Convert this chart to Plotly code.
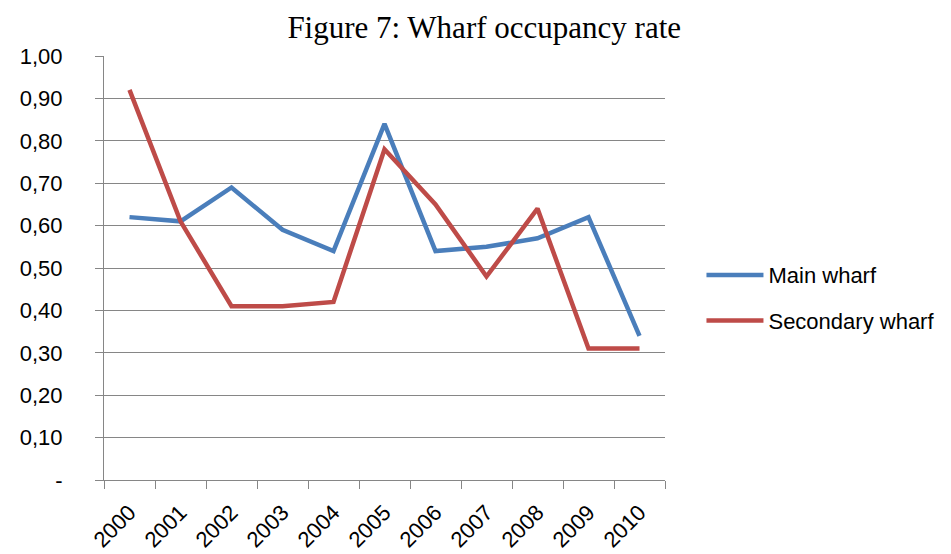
import plotly.graph_objects as go

years = ["2000", "2001", "2002", "2003", "2004", "2005", "2006", "2007", "2008", "2009", "2010"]
main_wharf = [0.62, 0.61, 0.69, 0.59, 0.54, 0.84, 0.54, 0.55, 0.57, 0.62, 0.34]
secondary_wharf = [0.92, 0.61, 0.41, 0.41, 0.42, 0.78, 0.65, 0.48, 0.64, 0.31, 0.31]
y_tickvals = [0, 0.1, 0.2, 0.3, 0.4, 0.5, 0.6, 0.7, 0.8, 0.9, 1.0]
y_ticktext = ["-", "0,10", "0,20", "0,30", "0,40", "0,50", "0,60", "0,70", "0,80", "0,90", "1,00"]

fig = go.Figure()
fig.add_trace(go.Scatter(x=years, y=main_wharf, mode="lines", name="Main wharf",
                         legendgroup="a",
                         line=dict(color="#4A7EBB", width=4.5)))
fig.add_trace(go.Scatter(x=years, y=secondary_wharf, mode="lines", name="Secondary wharf",
                         legendgroup="b",
                         line=dict(color="#BE4B48", width=4.5)))

fig.update_layout(
    width=943, height=546,
    margin=dict(l=96, r=283, t=48, b=74),
    paper_bgcolor="white", plot_bgcolor="white",
    title=dict(text="Figure 7: Wharf occupancy rate", x=0.505, xanchor="center",
               y=0.985, yanchor="top",
               font=dict(family="Liberation Serif", size=31, color="black")),
    font=dict(family="Liberation Sans", color="black"),
    showlegend=True,
    legend=dict(x=1.065, y=0.429, xanchor="left", yanchor="middle",
                font=dict(size=22, color="black"), tracegroupgap=14,
                itemwidth=57,
                bgcolor="rgba(0,0,0,0)"),
    xaxis=dict(type="category", range=[-0.5, 10.5], tickson="boundaries",
               ticks="outside", ticklen=8, tickcolor="#868686",
               showline=True, linecolor="#868686", linewidth=1,
               showgrid=False, tickangle=-45, ticklabelstandoff=10,
               automargin=False,
               tickfont=dict(size=22, color="black")),
    yaxis=dict(range=[0, 1.0], tickvals=y_tickvals, ticktext=y_ticktext,
               ticks="outside", ticklen=8, tickcolor="#868686",
               showline=True, linecolor="#868686", linewidth=1,
               showgrid=True, gridcolor="#868686", gridwidth=1,
               zeroline=False, ticklabelstandoff=28, automargin=False,
               tickfont=dict(size=22, color="black")),
)

fig.write_html("out.html")
